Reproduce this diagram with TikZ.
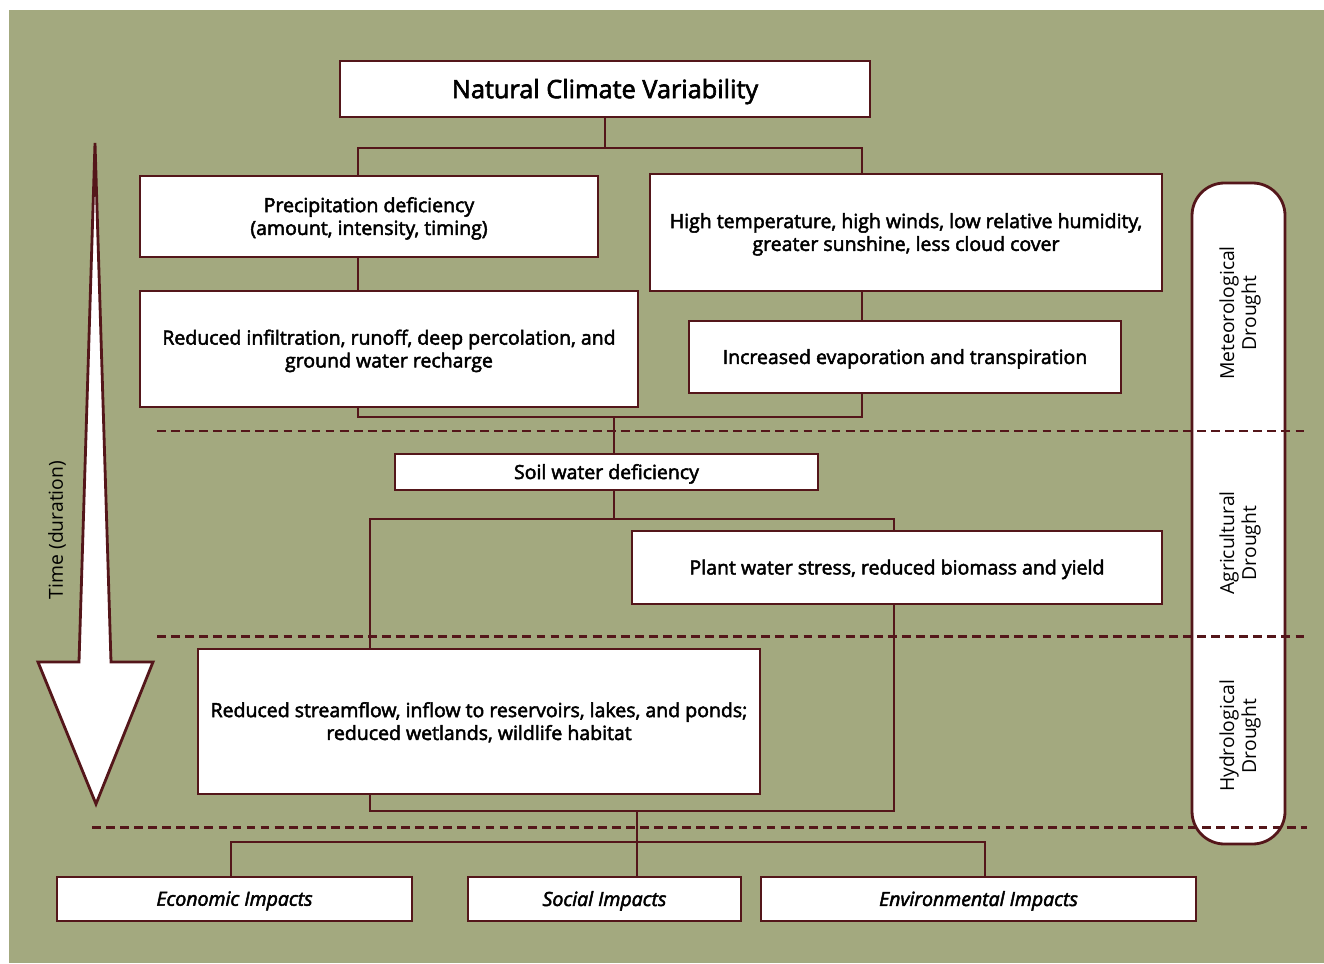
\documentclass[tikz,border=0pt]{standalone}
\usepackage{fontspec}
\setmainfont{Open Sans}[FakeBold=2.5]
\newfontfamily\lightfont{Open Sans}
\usepackage{tikz}
\definecolor{bggreen}{RGB}{163,169,127}
\definecolor{maroon}{RGB}{84,22,26}
\tikzset{
		box/.style={draw=maroon, fill=white, line width=1.6pt, align=center, inner sep=0pt, text depth=0.5pt, font=\fontsize{11.1}{13}\selectfont},
		impact/.style={box, minimum height=0.88cm, font=\fontsize{11.1}{13}\selectfont\itshape},
		link/.style={draw=maroon, line width=1.4pt},
		sep/.style={draw=maroon, line width=1.7pt, dash pattern=on 5pt off 3pt},
		pill/.style={draw=maroon, fill=white, line width=1.6pt, rounded corners=0.65cm},
		side/.style={rotate=90, align=center, font=\lightfont\fontsize{11}{12.5}\selectfont}
	}

\begin{document}
\begin{tikzpicture}[x=0.02cm, y=-0.02cm]
				\useasboundingbox (0,0) rectangle (1324,963);
				\fill[bggreen] (9,10) rectangle (1324,963);

				\draw[pill] (1192,183) rectangle (1285,844);
				\node[side] (met) at (1240,313) {Meteorological\\Drought};
				\node[side] (agr) at (1240,543) {Agricultural\\Drought};
				\node[side] (hyd) at (1240,736) {Hydrological\\Drought};

				\draw[maroon, line width=1.6pt, fill=white, line join=miter]
					(95,143) -- (111,662) -- (153,662) -- (96,804) -- (38,662) -- (79,662) -- cycle;
				\node[side] (time) at (57,530) {Time (duration)};

				\node[box, minimum width=10.6cm, minimum height=1.12cm, font=\fontsize{14.4}{16}\selectfont] (ncv) at (605,89) {Natural Climate Variability};
				\node[box, minimum width=9.16cm, minimum height=1.62cm] (precip) at (369,216.5) {Precipitation deficiency\\(amount, intensity, timing)};
				\node[box, minimum width=10.24cm, minimum height=2.34cm] (heat) at (906,232.5) {High temperature, high winds, low relative humidity,\\greater sunshine, less cloud cover};
				\node[box, minimum width=9.96cm, minimum height=2.32cm] (infil) at (389,349) {Reduced infiltration, runoff, deep percolation, and\\ground water recharge};
				\node[box, minimum width=8.64cm, minimum height=1.44cm] (evap) at (905,357) {Increased evaporation and transpiration};
				\node[box, minimum width=8.46cm, minimum height=0.72cm] (soil) at (606.5,472) {Soil water deficiency};
				\node[box, minimum width=10.6cm, minimum height=1.46cm] (plant) at (897,567.5) {Plant water stress, reduced biomass and yield};
				\node[box, minimum width=11.24cm, minimum height=2.9cm] (stream) at (479,721.5) {Reduced streamflow, inflow to reservoirs, lakes, and ponds;\\reduced wetlands, wildlife habitat};
				\node[impact, minimum width=7.1cm] (econ) at (234.5,899) {Economic Impacts};
				\node[impact, minimum width=5.46cm] (social) at (604.5,899) {Social Impacts};
				\node[impact, minimum width=8.7cm] (env) at (978.5,899) {Environmental Impacts};

				\coordinate (b1l) at (358,148);
				\coordinate (b1r) at (862,148);
				\coordinate (b2l) at (358,417);
				\coordinate (b2m) at (614,417);
				\coordinate (b2r) at (862,417);
				\coordinate (b3l) at (370,519);
				\coordinate (b3m) at (614,519);
				\coordinate (b3r) at (894,519);
				\coordinate (b4l) at (370,811);
				\coordinate (b4m) at (637,811);
				\coordinate (b4r) at (894,811);
				\coordinate (b5l) at (231,842);
				\coordinate (b5r) at (985,842);

				\draw[link] (ncv.south) -- (ncv.south |- b1l);
				\draw[link] (b1l |- precip.north) -- (b1l) -- (b1r) -- (b1r |- heat.north);
				\draw[link] (b1l |- precip.south) -- (b1l |- infil.north);
				\draw[link] (b1r |- heat.south) -- (b1r |- evap.north);
				\draw[link] (b2l |- infil.south) -- (b2l) -- (b2r) -- (b2r |- evap.south);
				\draw[link] (b2m) -- (b2m |- soil.north);
				\draw[link] (b3m |- soil.south) -- (b3m);
				\draw[link] (b3l |- stream.north) -- (b3l) -- (b3r) -- (b3r |- plant.north);
				\draw[link] (b4l |- stream.south) -- (b4l) -- (b4r) -- (b4r |- plant.south);
				\draw[link] (b4m) -- (b4m |- social.north);
				\draw[link] (b5l |- econ.north) -- (b5l) -- (b5r) -- (b5r |- env.north);

				\draw[sep] (157,431) -- (1307,431);
				\draw[sep] (157,636) -- (1307,636);
				\draw[sep] (92,827) -- (1307,827);
			\end{tikzpicture}
\end{document}
